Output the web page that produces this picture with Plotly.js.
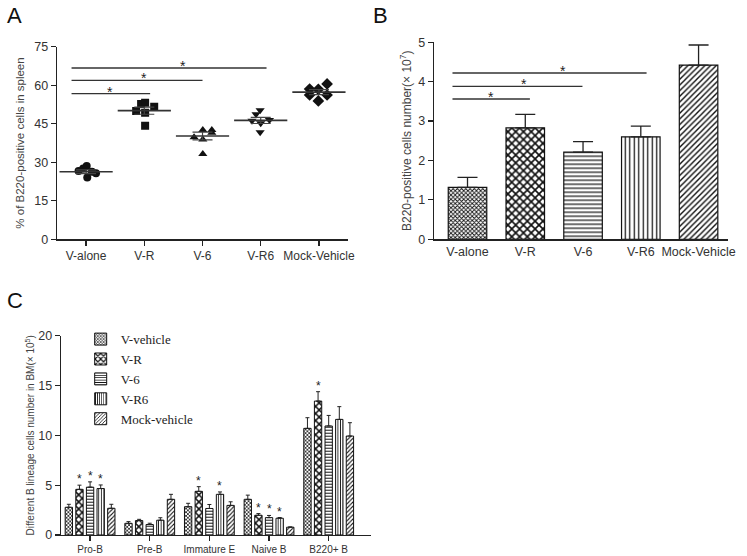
<!DOCTYPE html>
<html><head><meta charset="utf-8">
<script src="https://cdn.plot.ly/plotly-3.0.1.min.js"></script>
<style>html,body{margin:0;padding:0;background:#fff}#chart{width:747px;height:556px}</style>
</head><body><div id="chart"></div>
<script>
// ---------- Panel A data ----------
const groupsA = ['V-alone', 'V-R', 'V-6', 'V-R6', 'Mock-Vehicle'];
const ptsValone = [26.6, 27.6, 28.5, 24.1, 26.3, 25.7];
const ptsVR     = [50.0, 52.7, 53.2, 49.3, 51.6, 44.2];
const ptsV6     = [39.7, 42.6, 38.9, 42.6, 41.5, 33.2];
const ptsVR6    = [50.3, 48.7, 46.2, 45.2, 46.5, 41.7];
const ptsMock   = [58.5, 58.4, 60.5, 56.2, 56.2, 53.9];
const meansA = [26.3, 50.1, 40.2, 46.3, 57.3];
const semA   = [0.7, 1.4, 1.5, 1.2, 1.0];
// horizontal scatter of the dots inside each column (fraction of a category)
const jitValone = [-0.13, -0.05, 0.01, 0.02, 0.10, 0.17];
const jitVR     = [-0.14, -0.055, 0.014, 0.014, 0.17, 0.014];
const jitV6     = [-0.145, 0.005, 0.005, 0.16, 0.16, 0.005];
const jitVR6    = [-0.01, -0.08, -0.15, 0.0, 0.15, -0.01];
const jitMock   = [-0.16, -0.01, 0.14, -0.16, 0.14, -0.01];
const sigLevelA = [56.7, 61.9, 66.7];
const sigEndA   = [1.1, 2.0, 3.1];
const sigStarA  = [0.41, 1.0, 1.67];

// ---------- Panel B data ----------
const groupsB = ['V-alone', 'V-R', 'V-6', 'V-R6', 'Mock-Vehicle'];
const countsB = [1.32, 2.83, 2.21, 2.60, 4.42];
const semB    = [0.25, 0.34, 0.27, 0.27, 0.51];
const sigLevelB = [3.56, 3.88, 4.22];
const sigEndB   = [1.08, 1.99, 3.1];
const sigStarB  = [0.41, 0.98, 1.65];

// ---------- Panel C data ----------
const lineages = ['Pro-B', 'Pre-B', 'Immature E', 'Naive B', 'B220+ B'];
const seriesC  = ['V-vehicle', 'V-R', 'V-6', 'V-R6', 'Mock-vehicle'];
const cVvehicle = [2.78, 1.17, 2.84, 3.58, 10.70];
const cVR       = [4.58, 1.45, 4.38, 1.98, 13.44];
const cV6       = [4.80, 1.05, 2.66, 1.74, 10.94];
const cVR6      = [4.66, 1.48, 4.08, 1.68, 11.60];
const cMock     = [2.68, 3.58, 2.97, 0.78, 9.93];
const eVvehicle = [0.30, 0.17, 0.34, 0.42, 1.07];
const eVR       = [0.42, 0.12, 0.47, 0.17, 0.94];
const eV6       = [0.53, 0.13, 0.40, 0.22, 1.06];
const eVR6      = [0.36, 0.25, 0.24, 0.07, 1.28];
const eMock     = [0.40, 0.50, 0.36, 0.03, 1.34];
const starVvehicle = [0, 0, 0, 0, 0];
const starVR       = [1, 0, 1, 1, 1];
const starV6       = [1, 0, 0, 1, 0];
const starVR6      = [1, 0, 1, 1, 0];
const starMock     = [0, 0, 0, 0, 0];

// ---------- styles ----------
const FONT = 'Liberation Sans, Arial, sans-serif';
const SERIF = 'Liberation Serif, Times New Roman, serif';
const INK = '#222';
const traces = [];
const annotations = [];

function star(x, y, xref, yref, size, shift) {
  annotations.push({text: '*', x: x, y: y, xref: xref, yref: yref, showarrow: false,
    xanchor: 'center', yanchor: 'middle', yshift: shift,
    font: {family: FONT, size: size, color: '#222'}});
}

// Panel A dots
const ptsA = [ptsValone, ptsVR, ptsV6, ptsVR6, ptsMock];
const jitA = [jitValone, jitVR, jitV6, jitVR6, jitMock];
const symA = ['circle', 'square', 'triangle-up', 'triangle-down', 'diamond'];
ptsA.forEach((vals, g) => {
  traces.push({
    type: 'scatter', mode: 'markers', xaxis: 'x', yaxis: 'y', showlegend: false,
    x: vals.map((v, k) => g + jitA[g][k]), y: vals,
    marker: {symbol: symA[g], size: symA[g] === 'diamond' ? 9 : 8, color: '#111'}
  });
});
traces.push({
  type: 'scatter', mode: 'markers', xaxis: 'x', yaxis: 'y', showlegend: false,
  x: groupsA.map((_, i) => i), y: meansA,
  marker: {symbol: 'line-ew', size: 38, line: {width: 1.6, color: '#333'}},
  error_y: {type: 'data', array: semA, width: 10, thickness: 1.2, color: '#444'}
});
sigLevelA.forEach((lv, i) => {
  traces.push({type: 'scatter', mode: 'lines', xaxis: 'x', yaxis: 'y', showlegend: false,
    x: [-0.25, sigEndA[i]], y: [lv, lv], line: {color: '#333', width: 1.3}});
  star(sigStarA[i], lv, 'x', 'y', 14, 2);
});

// Panel B bars
traces.push({
  type: 'bar', xaxis: 'x2', yaxis: 'y2', showlegend: false,
  x: groupsB.map((_, i) => i), y: countsB, width: 0.667,
  marker: {color: 'white', line: {color: '#111', width: 1.2},
    pattern: {shape: ['x', 'x', '-', '|', '/'], size: [3, 5.5, 4, 4.5, 4],
      solidity: [0.5, 0.5, 0.3, 0.28, 0.35], fgcolor: '#111', bgcolor: 'white', fillmode: 'replace'}},
  error_y: {type: 'data', symmetric: false, array: semB, arrayminus: groupsB.map(() => 0),
    width: 10, thickness: 1.3, color: '#222'}
});
sigLevelB.forEach((lv, i) => {
  traces.push({type: 'scatter', mode: 'lines', xaxis: 'x2', yaxis: 'y2', showlegend: false,
    x: [-0.26, sigEndB[i]], y: [lv, lv], line: {color: '#333', width: 1.3}});
  star(sigStarB[i], lv, 'x2', 'y2', 14, 2);
});

// Panel C bars
const valsC = [cVvehicle, cVR, cV6, cVR6, cMock];
const errC = [eVvehicle, eVR, eV6, eVR6, eMock];
const starsC = [starVvehicle, starVR, starV6, starVR6, starMock];
const patC = [
  {shape: 'x', size: 2.6, solidity: 0.5},
  {shape: 'x', size: 5, solidity: 0.5},
  {shape: '-', size: 3, solidity: 0.33},
  {shape: '|', size: 2.6, solidity: 0.33},
  {shape: '/', size: 3, solidity: 0.35}
];
const BARGAP = 0.11, GROUPGAP = 0.31;
valsC.forEach((vals, s) => {
  traces.push({
    type: 'bar', name: seriesC[s], xaxis: 'x3', yaxis: 'y3',
    x: lineages.map((_, i) => i), y: vals,
    marker: {color: 'white', line: {color: '#111', width: 1},
      pattern: Object.assign({fgcolor: '#111', bgcolor: 'white', fillmode: 'replace'}, patC[s])},
    error_y: {type: 'data', symmetric: false, array: errC[s], arrayminus: vals.map(() => 0),
      width: 2, thickness: 1, color: '#222'}
  });
});
const slot = (1 - BARGAP) / seriesC.length;
starsC.forEach((flags, s) => {
  flags.forEach((f, i) => {
    if (f) star(i + (s - 2) * slot, valsC[s][i] + errC[s][i], 'x3', 'y3', 12, 6);
  });
});

const axisBase = {showline: true, linecolor: INK, linewidth: 1.3, ticks: 'outside', ticklen: 5,
  tickwidth: 1.2, tickcolor: INK, showgrid: false, zeroline: false, fixedrange: true,
  tickfont: {family: FONT, size: 12, color: '#333'}};

annotations.push(
  {text: 'A', xref: 'paper', yref: 'paper', x: 5 / 747, y: 1 - 15 / 556, xanchor: 'left', yanchor: 'middle',
    showarrow: false, font: {family: FONT, size: 22, color: '#111'}},
  {text: 'B', xref: 'paper', yref: 'paper', x: 371 / 747, y: 1 - 15 / 556, xanchor: 'left', yanchor: 'middle',
    showarrow: false, font: {family: FONT, size: 22, color: '#111'}},
  {text: 'C', xref: 'paper', yref: 'paper', x: 5 / 747, y: 1 - 300 / 556, xanchor: 'left', yanchor: 'middle',
    showarrow: false, font: {family: FONT, size: 22, color: '#111'}}
);

const layout = {
  width: 747, height: 556, margin: {l: 0, r: 0, t: 0, b: 0},
  paper_bgcolor: 'white', plot_bgcolor: 'white',
  font: {family: FONT, color: '#333'},
  barmode: 'group', bargap: BARGAP, bargroupgap: GROUPGAP,
  xaxis: Object.assign({}, axisBase, {domain: [0.0763, 0.4659], range: [-0.5, 4.5], anchor: 'y',
    tickvals: [0, 1, 2, 3, 4], ticktext: groupsA}),
  yaxis: Object.assign({}, axisBase, {domain: [0.5696, 0.916], range: [0, 75], anchor: 'x',
    tickvals: [0, 15, 30, 45, 60, 75], tickfont: {family: FONT, size: 12.5, color: '#333'},
    title: {text: '% of B220-positive cells in spleen', font: {family: FONT, size: 11.5, color: '#444'}, standoff: 7}}),
  xaxis2: Object.assign({}, axisBase, {domain: [0.581, 0.9746], range: [-0.58, 4.51], anchor: 'y2',
    tickvals: [0, 1, 2, 3, 4], ticktext: groupsB, ticks: '', tickfont: {family: FONT, size: 12.5, color: '#333'}}),
  yaxis2: Object.assign({}, axisBase, {domain: [0.5696, 0.924], range: [0, 5], anchor: 'x2', dtick: 1,
    tickfont: {family: FONT, size: 12.5, color: '#333'},
    title: {text: 'B220-positive cells number(× 10<sup>7</sup>)', font: {family: FONT, size: 12, color: '#444'}, standoff: 4}}),
  xaxis3: Object.assign({}, axisBase, {domain: [0.0817, 0.4967], range: [-0.487, 4.71], anchor: 'y3',
    tickvals: [0, 1, 2, 3, 4], ticktext: lineages, tickfont: {family: FONT, size: 10, color: '#333'}}),
  yaxis3: Object.assign({}, axisBase, {domain: [0.0378, 0.3962], range: [0, 20], anchor: 'x3', dtick: 5,
    tickfont: {family: FONT, size: 12.5, color: '#333'},
    title: {text: 'Different B lineage cells number in BM(× 10<sup>5</sup>)', font: {family: FONT, size: 10, color: '#444'}, standoff: 1}}),
  legend: {x: 0.108, y: 0.417, xanchor: 'left', yanchor: 'top', bgcolor: 'rgba(0,0,0,0)',
    font: {family: SERIF, size: 13, color: '#222'}, tracegroupgap: 0},
  annotations: annotations
};

Plotly.newPlot('chart', traces, layout, {staticPlot: true, displayModeBar: false});
</script>
</body></html>
